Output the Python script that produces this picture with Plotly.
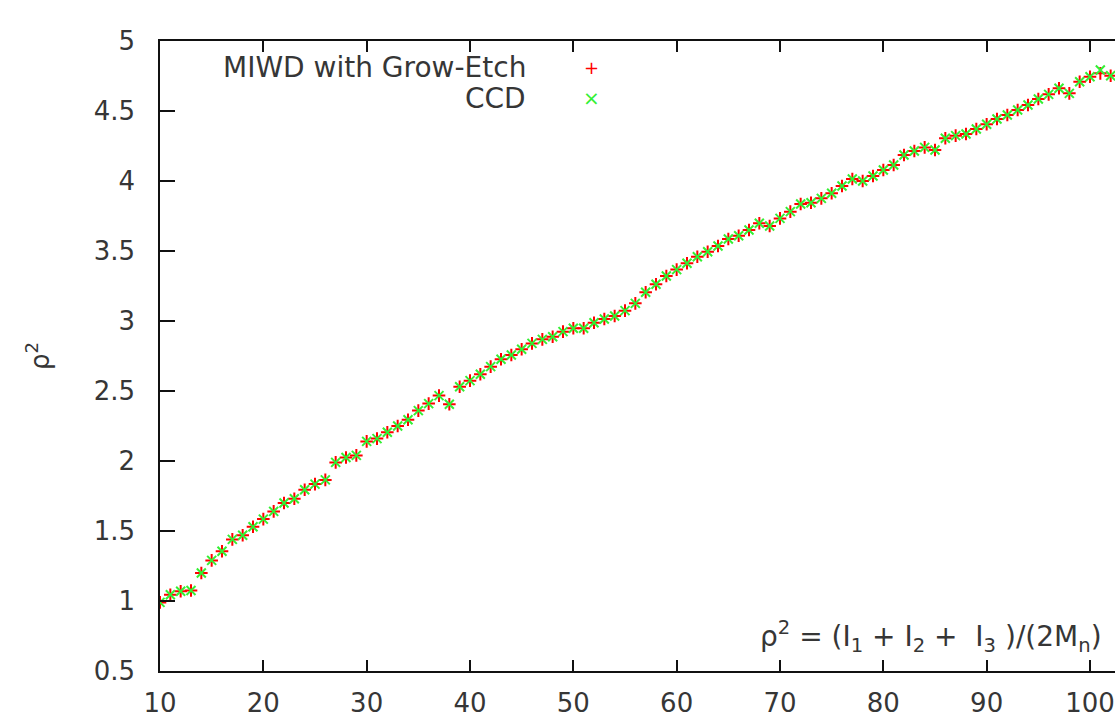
import plotly.graph_objects as go

# ---- data ----
n_values = list(range(10, 103))

miwd_grow_etch = [
    0.99, 1.045, 1.07, 1.075, 1.20, 1.29, 1.355, 1.44, 1.47, 1.53,
    1.585, 1.64, 1.70, 1.73, 1.795, 1.835, 1.865, 1.99, 2.025, 2.04,
    2.14, 2.16, 2.205, 2.25, 2.295, 2.36, 2.41, 2.467, 2.405, 2.53,
    2.574, 2.62, 2.674, 2.727, 2.757, 2.798, 2.84, 2.869, 2.888, 2.924,
    2.948, 2.948, 2.988, 3.014, 3.036, 3.074, 3.126, 3.205, 3.262, 3.321,
    3.367, 3.412, 3.459, 3.495, 3.536, 3.586, 3.609, 3.65, 3.698, 3.679,
    3.733, 3.781, 3.836, 3.845, 3.876, 3.912, 3.964, 4.014, 4.0, 4.036,
    4.079, 4.114, 4.186, 4.214, 4.24, 4.221, 4.305, 4.324, 4.336, 4.371,
    4.405, 4.443, 4.471, 4.507, 4.543, 4.586, 4.619, 4.662, 4.626, 4.709,
    4.745, 4.769, 4.752,
]

ccd = [
    0.99, 1.045, 1.07, 1.075, 1.20, 1.29, 1.355, 1.44, 1.47, 1.53,
    1.585, 1.64, 1.70, 1.73, 1.795, 1.835, 1.865, 1.99, 2.025, 2.04,
    2.14, 2.16, 2.205, 2.25, 2.295, 2.36, 2.41, 2.467, 2.405, 2.53,
    2.574, 2.62, 2.674, 2.727, 2.757, 2.798, 2.84, 2.869, 2.888, 2.924,
    2.948, 2.948, 2.988, 3.014, 3.036, 3.074, 3.126, 3.205, 3.262, 3.321,
    3.367, 3.412, 3.459, 3.495, 3.536, 3.586, 3.609, 3.65, 3.698, 3.679,
    3.733, 3.781, 3.836, 3.845, 3.876, 3.912, 3.964, 4.014, 4.0, 4.036,
    4.079, 4.114, 4.186, 4.214, 4.24, 4.221, 4.305, 4.324, 4.336, 4.371,
    4.405, 4.443, 4.471, 4.507, 4.543, 4.586, 4.619, 4.662, 4.626, 4.709,
    4.745, 4.793, 4.752,
]

series_names = ["MIWD with Grow-Etch", "CCD"]
x_ticks = [10, 20, 30, 40, 50, 60, 70, 80, 90, 100]
y_ticks = [0.5, 1, 1.5, 2, 2.5, 3, 3.5, 4, 4.5, 5]
y_tick_labels = ["0.5", "1", "1.5", "2", "2.5", "3", "3.5", "4", "4.5", "5"]

RED = "#ff0000"
GREEN = "#33f033"
TEXT = "#363636"
FONT = "DejaVu Sans"

fig = go.Figure()
fig.add_trace(go.Scatter(
    x=n_values, y=miwd_grow_etch, mode="markers", name=series_names[0],
    marker=dict(symbol="cross-thin", size=9, line=dict(color=RED, width=2)),
))
fig.add_trace(go.Scatter(
    x=n_values, y=ccd, mode="markers", name=series_names[1],
    marker=dict(symbol="x-thin", size=9, line=dict(color=GREEN, width=2)),
))

L, R, T, B = 160, 0, 41, 51
W, H = 1115, 722
pw, ph = W - L - R, H - T - B

def px(xp):
    return (xp - L) / pw

def py(yp):
    return (H - B - yp) / ph

fig.update_layout(
    width=W, height=H,
    margin=dict(l=L, r=R, t=T, b=B, autoexpand=False),
    plot_bgcolor="white", paper_bgcolor="white",
    font=dict(family=FONT, size=26, color=TEXT),
    showlegend=False,
)
fig.update_xaxes(
    range=[10, 102.42], tickvals=x_ticks, ticks="inside", ticklen=11,
    tickwidth=1.5, tickcolor="#111", showline=True, linecolor="#111",
    linewidth=1.5, mirror="ticks", showgrid=False, zeroline=False,
    ticklabelstandoff=8, automargin=False,
)
fig.update_yaxes(
    range=[0.5, 5], tickvals=y_ticks, ticktext=y_tick_labels,
    ticks="inside", ticklen=15, tickwidth=1.5, tickcolor="#111",
    showline=True, linecolor="#111", linewidth=1.5, mirror=False,
    showgrid=False, zeroline=False, ticklabelstandoff=18, automargin=False,
)

annotations = [
    dict(text="ρ<sup>2</sup>", x=px(38), y=py(356), xref="paper", yref="paper",
         textangle=-90, showarrow=False, xanchor="center", yanchor="middle",
         font=dict(size=26, color=TEXT, family=FONT)),
    dict(text="ρ<sup>2</sup> = (I<sub>1</sub> + I<sub>2</sub> +  I<sub>3</sub> )/(2M<sub>n</sub>)",
         x=px(1104), y=py(636), xref="paper", yref="paper", showarrow=False,
         xanchor="right", yanchor="middle",
         font=dict(size=28, color=TEXT, family=FONT)),
    dict(text=series_names[0], x=px(528), y=py(68), xref="paper", yref="paper",
         showarrow=False, xanchor="right", yanchor="middle",
         font=dict(size=28, color=TEXT, family=FONT)),
    dict(text=series_names[1], x=px(528), y=py(98), xref="paper", yref="paper",
         showarrow=False, xanchor="right", yanchor="middle",
         font=dict(size=28, color=TEXT, family=FONT)),
    dict(text="+", x=px(591), y=py(68), xref="paper", yref="paper",
         showarrow=False, xanchor="center", yanchor="middle",
         font=dict(size=18, color=RED, family=FONT)),
    dict(text="×", x=px(591), y=py(98), xref="paper", yref="paper",
         showarrow=False, xanchor="center", yanchor="middle",
         font=dict(size=20, color=GREEN, family=FONT)),
]
fig.update_layout(annotations=annotations)

fig.write_html(
    "out.html",
    config={"displayModeBar": False},
    post_script="document.body.style.margin='0';document.body.style.overflow='hidden';",
)
